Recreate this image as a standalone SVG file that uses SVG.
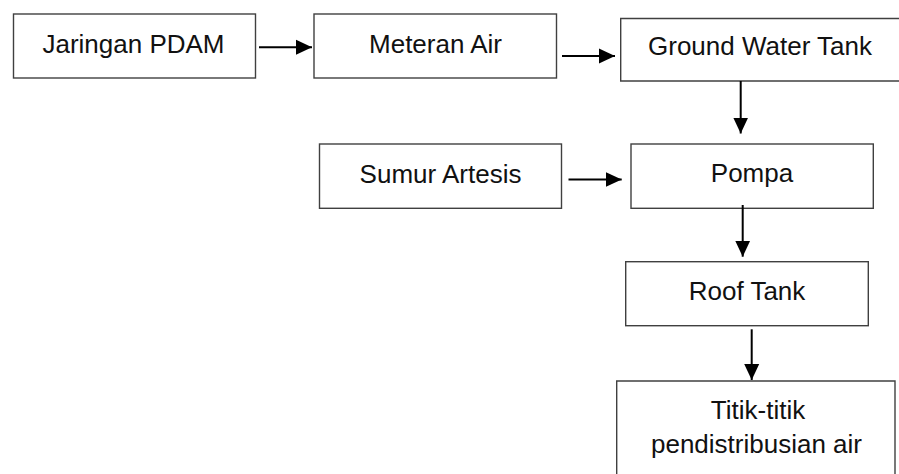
<svg xmlns="http://www.w3.org/2000/svg" width="899" height="474" viewBox="0 0 899 474">
<defs>
<style>
.box{fill:#fff;stroke:#404040;stroke-width:1.4}
.lbl{font-family:"Liberation Sans",Arial,sans-serif;font-size:26px;fill:#111;text-anchor:middle}
.con{stroke:#000;stroke-width:2;fill:none}
</style>
<marker id="ah" markerUnits="userSpaceOnUse" markerWidth="16" markerHeight="16" viewBox="0 0 16 16" refX="16" refY="8" orient="auto">
<path d="M0,0.5 L16,8 L0,15.5 Z" fill="#000"/>
</marker>
</defs>
<rect width="899" height="474" fill="#fff"/>
<g id="n-jaringan"><rect class="box" x="13.5" y="14" width="242" height="64"/><text class="lbl" x="133.5" y="52.5">Jaringan PDAM</text></g>
<g id="n-meteran"><rect class="box" x="314" y="14" width="242.5" height="64"/><text class="lbl" x="435.5" y="52.5">Meteran Air</text></g>
<g id="n-gwt"><path class="box" d="M900,18.5 H620.7 V81 H900"/><text class="lbl" x="760" y="54.5">Ground Water Tank</text></g>
<g id="n-sumur"><rect class="box" x="319.5" y="144" width="242" height="64.3"/><text class="lbl" x="440.5" y="182.5">Sumur Artesis</text></g>
<g id="n-pompa"><rect class="box" x="631" y="144" width="242.3" height="64.3"/><text class="lbl" x="752" y="182">Pompa</text></g>
<g id="n-roof"><rect class="box" x="625.7" y="261.7" width="242.6" height="64"/><text class="lbl" x="747" y="299.5">Roof Tank</text></g>
<g id="n-titik"><path class="box" d="M616.7,476 V381 H895 V476"/><text class="lbl" x="758" y="418.5">Titik-titik</text><text class="lbl" x="756.5" y="452.7">pendistribusian air</text></g>
<g id="connectors">
<line class="con" x1="259" y1="47.3" x2="312" y2="47.3" marker-end="url(#ah)"/>
<line class="con" x1="562" y1="56" x2="615" y2="56" marker-end="url(#ah)"/>
<line class="con" x1="740.7" y1="81" x2="740.7" y2="133.5" marker-end="url(#ah)"/>
<line class="con" x1="568.5" y1="179.5" x2="621.7" y2="179.5" marker-end="url(#ah)"/>
<line class="con" x1="742.7" y1="205" x2="742.7" y2="256.7" marker-end="url(#ah)"/>
<line class="con" x1="751.7" y1="329.3" x2="751.7" y2="380" marker-end="url(#ah)"/>
</g>
</svg>
